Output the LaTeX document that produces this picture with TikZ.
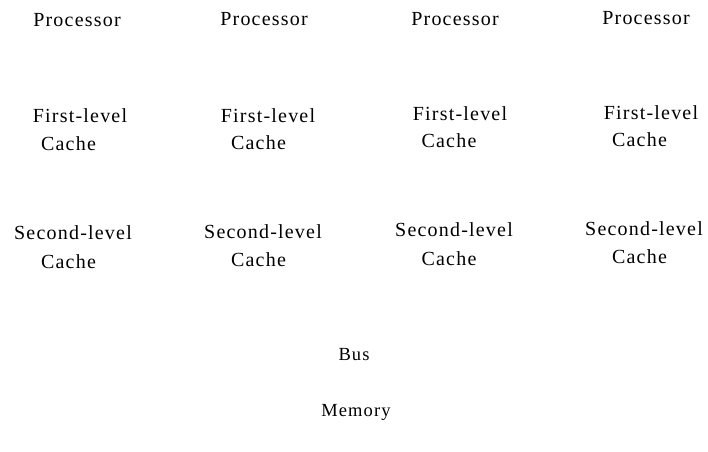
\documentclass[tikz,border=0pt]{standalone}
\usepackage{fontspec}
\setmainfont{Liberation Serif}
\newfontfamily\spacedserif[LetterSpace=6]{Liberation Serif}
\begin{document}
\begin{tikzpicture}[x=1pt,y=-1pt,
  lbl/.style={inner sep=0pt,font=\spacedserif\fontsize{20}{24}\selectfont},
  plainlbl/.style={inner sep=0pt,font=\spacedserif\fontsize{18.5}{22}\selectfont}]
\useasboundingbox (0,0) rectangle (708,451);
% processors
\node[lbl] (p1) at (77,20) {Processor};
\node[lbl] (p2) at (264,19) {Processor};
\node[lbl] (p3) at (455,19) {Processor};
\node[lbl] (p4) at (646,18) {Processor};
% first-level caches
\node[lbl] (f1) at (80,116) {First-level};
\node[lbl] (f2) at (268,116) {First-level};
\node[lbl] (f3) at (460,114) {First-level};
\node[lbl] (f4) at (651,113) {First-level};
\node[lbl] (f1c) at (68.5,144) {Cache};
\node[lbl] (f2c) at (258.5,143) {Cache};
\node[lbl] (f3c) at (449,141) {Cache};
\node[lbl] (f4c) at (639.5,140) {Cache};
% second-level caches
\node[lbl] (s1) at (73,233) {Second-level};
\node[lbl] (s2) at (263,232) {Second-level};
\node[lbl] (s3) at (454,230) {Second-level};
\node[lbl] (s4) at (644,229) {Second-level};
\node[lbl] (s1c) at (68.5,262) {Cache};
\node[lbl] (s2c) at (258.5,260) {Cache};
\node[lbl] (s3c) at (449,259) {Cache};
\node[lbl] (s4c) at (639.5,257) {Cache};
% bus and memory
\node[plainlbl] (bus) at (354,355) {Bus};
\node[plainlbl] (mem) at (356,412) {Memory};
\end{tikzpicture}
\end{document}
